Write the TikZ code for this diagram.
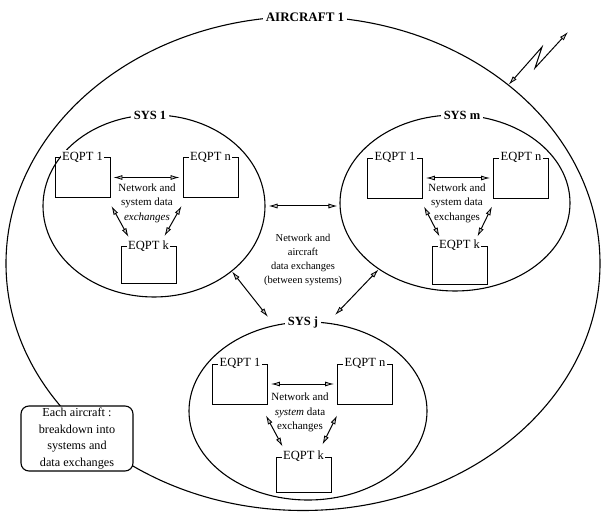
\documentclass[tikz,border=0pt]{standalone}
\usepackage{fontspec}
\setmainfont{Liberation Serif}
\usetikzlibrary{shapes.geometric,arrows.meta,calc}
\begin{document}
\begin{tikzpicture}[x=1pt,y=-1pt,
  ell/.style={draw, ellipse, line width=1.1pt, inner sep=0pt},
  eqbox/.style={draw, line width=0.9pt, minimum width=55pt, minimum height=40pt, inner sep=0pt},
  eqlab/.style={fill=white, inner sep=1.5pt, font=\fontsize{12.5}{14}\selectfont},
  syslab/.style={fill=white, inner sep=2.5pt, font=\bfseries\fontsize{12.5}{14}\selectfont},
  note/.style={align=center, font=\fontsize{11}{14.5}\selectfont, inner sep=0pt},
  midnote/.style={align=center, font=\fontsize{10.5}{13.8}\selectfont, inner sep=0pt},
  notebox/.style={draw, fill=white, rounded corners=8pt, line width=1.1pt, align=center,
    minimum width=112pt, minimum height=65pt, inner sep=0pt, font=\fontsize{12.2}{16.8}\selectfont},
  dbl/.style={line width=1pt,
    {Latex[length=9pt,width=5pt,fill=gray!45,line width=0.8pt]}-{Latex[length=9pt,width=5pt,fill=gray!45,line width=0.8pt]}},
]
\useasboundingbox (0,0) rectangle (603,513);

% aircraft
\node[ell, minimum width=594pt, minimum height=494pt] (ac) at (303,263.5) {};
\node[syslab, font=\bfseries\fontsize{13}{15}\selectfont] (acl) at (305,17) {AIRCRAFT 1};
\coordinate (z1) at (542,47);
\coordinate (z2) at (535,68);
\coordinate (ant) at (568,32);
\draw[dbl] (ac.41) -- (z1) -- (z2) -- (ant);

% systems
\node[ell, minimum width=222pt, minimum height=182pt] (sys1) at (154,206) {};
\node[syslab] (sys1l) at (150,115) {SYS 1};
\node[ell, minimum width=230pt, minimum height=176pt] (sysm) at (455,203) {};
\node[syslab] (sysml) at (462,115) {SYS m};
\node[ell, minimum width=238pt, minimum height=178pt] (sysj) at (308,411) {};
\node[syslab] (sysjl) at (303,322) {SYS j};

% between systems
\node[midnote] (mid) at (303,260) {Network and\\aircraft\\data exchanges\\(between systems)};
\draw[dbl, shorten <=3pt, shorten >=2pt] (sys1.east) -- (sys1.east -| sysm.west);
\coordinate (j1) at (268,317);
\coordinate (j2) at (335,315);
\draw[dbl] (sys1.-40) -- (j1);
\draw[dbl] (sysm.-139) -- (j2);

% SYS 1 equipment
\node[eqbox] (s1e1) at (82.5,177.5) {};
\node[eqlab] (s1e1l) at (s1e1.north) {EQPT 1};
\node[eqbox] (s1en) at (210.5,177.5) {};
\node[eqlab] (s1enl) at (s1en.north) {EQPT n};
\node[eqbox, minimum height=37pt] (s1ek) at (148.5,265) {};
\node[eqlab] (s1ekl) at (s1ek.north) {EQPT k};
\node[note] (s1t) at (147,203) {Network and\\system data\\\textit{exchanges}};
\draw[dbl, shorten <=3pt, shorten >=3pt] (s1e1.east) -- (s1en.west);
\draw[dbl] ($(s1e1.south east)+(1,8)$) -- ($(s1ek.north west)+(8,-9)$);
\draw[dbl] ($(s1en.south west)+(-1,8)$) -- ($(s1ek.north east)+(-12,-10)$);

% SYS m equipment
\node[eqbox] (sme1) at (395,178) {};
\node[eqlab] (sme1l) at (sme1.north) {EQPT 1};
\node[eqbox] (smen) at (521,178) {};
\node[eqlab] (smenl) at (smen.north) {EQPT n};
\node[eqbox, minimum height=38pt] (smek) at (459.5,265) {};
\node[eqlab] (smekl) at (smek.north) {EQPT k};
\node[note] (smt) at (457,203) {Network and\\system data\\exchanges};
\draw[dbl, shorten <=3pt, shorten >=3pt] (sme1.east) -- (smen.west);
\draw[dbl] ($(sme1.south east)+(1,8)$) -- ($(smek.north west)+(8,-9)$);
\draw[dbl] ($(smen.south west)+(-1,8)$) -- ($(smek.north east)+(-10,-9)$);

% SYS j equipment
\node[eqbox] (sje1) at (240,384) {};
\node[eqlab] (sje1l) at (sje1.north) {EQPT 1};
\node[eqbox] (sjen) at (365,384) {};
\node[eqlab] (sjenl) at (sjen.north) {EQPT n};
\node[eqbox, minimum height=35pt] (sjek) at (303.5,474.5) {};
\node[eqlab] (sjekl) at (sjek.north) {EQPT k};
\node[note] (sjt) at (300,412.5) {Network and\\\textit{system} data\\exchanges};
\draw[dbl, shorten <=3pt, shorten >=3pt] (sje1.east) -- (sjen.west);
\draw[dbl] ($(sje1.south east)+(-2,11)$) -- ($(sjek.north west)+(7,-10)$);
\draw[dbl] ($(sjen.south west)+(0,11)$) -- ($(sjek.north east)+(-9,-12)$);

% note box
\node[notebox] (nb) at (77,438.5) {Each aircraft :\\breakdown into\\systems and\\data exchanges};
\end{tikzpicture}
\end{document}
